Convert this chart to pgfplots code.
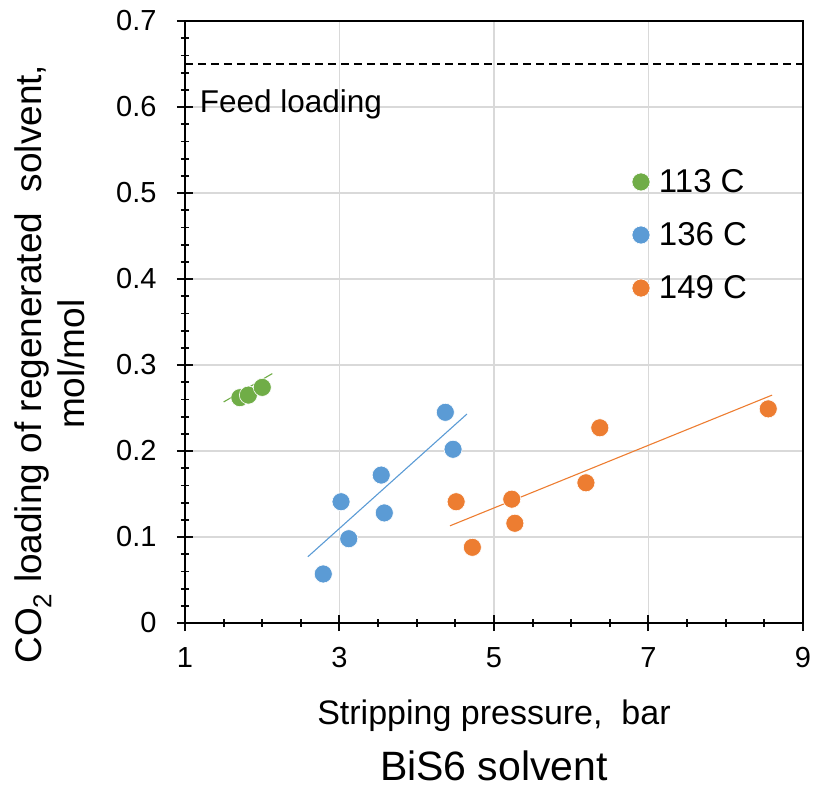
\documentclass[border=0pt]{standalone}
\usepackage{fontspec}
\setmainfont{Liberation Sans}
\usepackage{pgfplots}
\pgfplotsset{compat=1.18}
\definecolor{cgreen}{HTML}{70AD47}
\definecolor{cblue}{HTML}{5B9BD5}
\definecolor{corange}{HTML}{ED7D31}
\definecolor{tickblack}{HTML}{0A0A0A}
\begin{document}
\begin{tikzpicture}
\path[use as bounding box] (-185pt,-172pt) rectangle (640pt,623pt);
\begin{axis}[
  scale only axis,
  clip=false,
  width=618pt, height=602pt,
  xmin=1, xmax=9, ymin=0, ymax=0.7,
  xtick={1,3,5,7,9},
  ytick={0,0.1,0.2,0.3,0.4,0.5,0.6,0.7},
  yticklabels={0,0.1,0.2,0.3,0.4,0.5,0.6,0.7},
  minor x tick num=3,
  minor y tick num=4,
  xtick pos=bottom, ytick pos=left,
  tick align=center,
  major tick length=16pt,
  minor tick length=8pt,
  major tick style={tickblack, line width=2pt},
  minor tick style={tickblack, line width=1.8pt},
  axis line style={black, line width=1.8pt},
  xmajorgrids, ymajorgrids,
  major grid style={color=black!15, line width=1.5pt},
  /pgf/number format/assume math mode=true,
  tick label style={font=\fontsize{29}{29}\selectfont},
  xticklabel style={yshift=-13pt},
  yticklabel style={xshift=-17pt},
  xlabel={Stripping pressure,\ \ bar},
  xlabel style={font=\fontsize{34}{34}\selectfont, at={(axis description cs:0.5,-0.1694)}, anchor=base},
  ylabel={CO\textsubscript{2} loading of regenerated\ \ solvent,\\mol/mol},
  ylabel style={font=\fontsize{37}{43}\selectfont, align=center, at={(axis description cs:-0.2184,0.43)}, anchor=center},
  title={BiS6 solvent},
  title style={font=\fontsize{41}{41}\selectfont, at={(axis description cs:0.5,-0.2708)}, anchor=base},
  legend style={draw=none, fill=none, font=\fontsize{33}{33}\selectfont,
    at={(axis cs:6.745,0.532)}, anchor=north west, row sep=24.5pt},
  legend cell align=left,
]
% feed loading
\addplot[black, line width=2pt, dash pattern=on 8pt off 5pt, forget plot] coordinates {(1,0.65) (9,0.65)};
\node[anchor=base west, font=\fontsize{31.5}{31.5}\selectfont, inner sep=0pt] at (axis cs:1.19,0.594) {Feed loading};
% trend lines
\addplot[cgreen, line width=1.1pt, forget plot] coordinates {(1.50,0.257) (2.13,0.290)};
\addplot[cblue, line width=1.1pt, forget plot] coordinates {(2.59,0.077) (4.65,0.243)};
\addplot[corange, line width=1.1pt, forget plot] coordinates {(4.43,0.113) (8.60,0.265)};
% data
\addplot[only marks, mark=*, mark size=9pt, draw=none, fill=cgreen, mark options={draw=white, line width=0.6pt, fill=cgreen}]
  coordinates {(1.71,0.262) (1.82,0.265) (2.00,0.274)};
\addlegendentry{\hspace{7pt}113 C}
\addplot[only marks, mark=*, mark size=9pt, draw=none, fill=cblue, mark options={draw=white, line width=0.6pt, fill=cblue}]
  coordinates {(4.37,0.245) (4.47,0.202) (3.54,0.172) (3.02,0.141) (3.58,0.128) (3.12,0.098) (2.79,0.057)};
\addlegendentry{\hspace{7pt}136 C}
\addplot[only marks, mark=*, mark size=9pt, draw=none, fill=corange, mark options={draw=white, line width=0.6pt, fill=corange}]
  coordinates {(4.51,0.141) (4.72,0.088) (5.23,0.144) (5.27,0.116) (6.19,0.163) (6.37,0.227) (8.55,0.249)};
\addlegendentry{\hspace{7pt}149 C}
\end{axis}
\end{tikzpicture}
\end{document}
